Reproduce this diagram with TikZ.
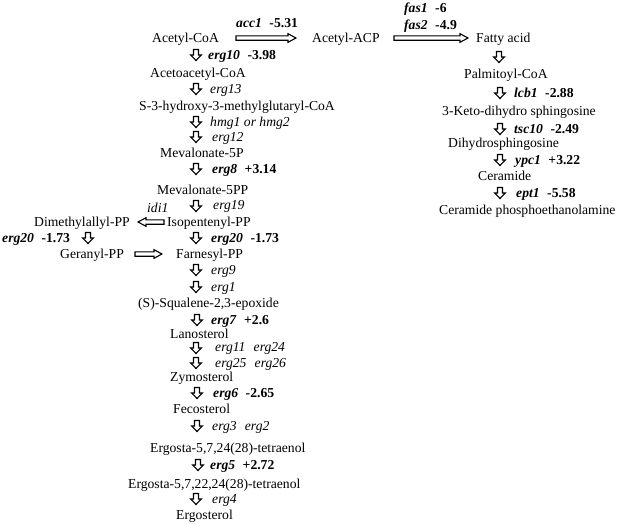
\documentclass[tikz,border=0pt]{standalone}
\usepackage{fontspec}
\setmainfont{Liberation Serif}
\newcommand\gb[2]{\textbf{\textit{#1}}\hspace{0.55em}\textbf{#2}}
\newcommand\gi[1]{\textit{#1}}
\begin{document}
\begin{tikzpicture}[x=1pt,y=-1pt,
  txt/.style={inner sep=0pt, anchor=base west, yshift=-4.5pt, font=\fontsize{13.65}{16}\selectfont},
  blk/.style={draw=black, line width=1.1pt, fill=white, line join=miter},
  darr/.pic={\draw[blk] (-2.5,-5.5) -- (-2.5,0) -- (-5.3,0) -- (0,5.5) -- (5.3,0) -- (2.5,0) -- (2.5,-5.5) -- cycle;}
]
\useasboundingbox (0,0) rectangle (619,523);
% ---------- top row ----------
\node[txt] (acoa) at (152,38) {Acetyl-CoA};
\node[txt] (acc) at (236,23) {\gb{acc1}{-5.31}};
\node[txt] (aacp) at (312,38) {Acetyl-ACP};
\node[txt] (fas1) at (404,8) {\gb{fas1}{-6}};
\node[txt] (fas2) at (404,25) {\gb{fas2}{-4.9}};
\node[txt] (fatty) at (476,38) {Fatty acid};
\draw[blk] (236,35.8) -- (288,35.8) -- (288,33.7) -- (296,38) -- (288,42.3) -- (288,40.2) -- (236,40.2) -- cycle;
\draw[blk] (394,35.8) -- (460,35.8) -- (460,33.7) -- (468,38) -- (460,42.3) -- (460,40.2) -- (394,40.2) -- cycle;
% ---------- right column ----------
\pic at (499,57) {darr};
\node[txt] (palm) at (464,74) {Palmitoyl-CoA};
\pic at (500,93) {darr};
\node[txt] (lcb) at (514,93) {\gb{lcb1}{-2.88}};
\node[txt] (keto) at (442,111) {3-Keto-dihydro sphingosine};
\pic at (500,129) {darr};
\node[txt] (tsc) at (514,129) {\gb{tsc10}{-2.49}};
\node[txt] (dihy) at (448,143) {Dihydrosphingosine};
\pic at (500,160) {darr};
\node[txt] (ypc) at (515,160) {\gb{ypc1}{+3.22}};
\node[txt] (cer) at (478,176) {Ceramide};
\pic at (500,193) {darr};
\node[txt] (ept) at (516,193) {\gb{ept1}{-5.58}};
\node[txt] (cerp) at (439,210) {Ceramide phosphoethanolamine};
% ---------- left column ----------
\pic at (196,55) {darr};
\node[txt] (erg10) at (208,55) {\gb{erg10}{-3.98}};
\node[txt] (aacoa) at (150,73) {Acetoacetyl-CoA};
\pic at (196,89) {darr};
\node[txt] (erg13) at (210,89) {\gi{erg13}};
\node[txt] (hmgcoa) at (139,106) {S-3-hydroxy-3-methylglutaryl-CoA};
\pic at (196,122) {darr};
\node[txt] (hmg) at (210,122) {\gi{hmg1 or hmg2}};
\pic at (196,137) {darr};
\node[txt] (erg12) at (212,137) {\gi{erg12}};
\node[txt] (mev5p) at (160,153) {Mevalonate-5P};
\pic at (196,169) {darr};
\node[txt] (erg8) at (212,169) {\gb{erg8}{+3.14}};
\node[txt] (mev5pp) at (157,190) {Mevalonate-5PP};
\pic at (196,206) {darr};
\node[txt] (erg19) at (213,205) {\gi{erg19}};
\node[txt] (idi) at (147,208) {\gi{idi1}};
\node[txt] (dmapp) at (34,222) {Dimethylallyl-PP};
\node[txt] (ipp) at (167,222) {Isopentenyl-PP};
\draw[blk] (164,219.8) -- (146,219.8) -- (146,217.7) -- (138,222) -- (146,226.3) -- (146,224.2) -- (164,224.2) -- cycle;
\node[txt] (erg20a) at (2,238) {\gb{erg20}{-1.73}};
\pic at (88,238) {darr};
\pic at (196,238) {darr};
\node[txt] (erg20b) at (211,238) {\gb{erg20}{-1.73}};
\node[txt] (gpp) at (60,254) {Geranyl-PP};
\draw[blk] (135,251.8) -- (154,251.8) -- (154,249.7) -- (162,254) -- (154,258.3) -- (154,256.2) -- (135,256.2) -- cycle;
\node[txt] (fpp) at (176,254) {Farnesyl-PP};
\pic at (196,270) {darr};
\node[txt] (erg9) at (211,270) {\gi{erg9}};
\pic at (196,287) {darr};
\node[txt] (erg1) at (211,287) {\gi{erg1}};
\node[txt] (squal) at (138,303) {(S)-Squalene-2,3-epoxide};
\pic at (197,320) {darr};
\node[txt] (erg7) at (211,320) {\gb{erg7}{+2.6}};
\node[txt] (lano) at (170,334) {Lanosterol};
\pic at (196,348) {darr};
\node[txt] (erg11) at (215,347) {\gi{erg11}\hspace{0.6em}\gi{erg24}};
\pic at (196,363) {darr};
\node[txt] (erg25) at (215,363) {\gi{erg25}\hspace{0.6em}\gi{erg26}};
\node[txt] (zymo) at (170,377) {Zymosterol};
\pic at (197,393) {darr};
\node[txt] (erg6) at (213,393) {\gb{erg6}{-2.65}};
\node[txt] (feco) at (173,409) {Fecosterol};
\pic at (197,426) {darr};
\node[txt] (erg3) at (212,426) {\gi{erg3}\hspace{0.6em}\gi{erg2}};
\node[txt] (ergA) at (150,448) {Ergosta-5,7,24(28)-tetraenol};
\pic at (198,465) {darr};
\node[txt] (erg5) at (210,465) {\gb{erg5}{+2.72}};
\node[txt] (ergB) at (128,484) {Ergosta-5,7,22,24(28)-tetraenol};
\pic at (196,499) {darr};
\node[txt] (erg4) at (212,499) {\gi{erg4}};
\node[txt] (ergo) at (176,515) {Ergosterol};
\end{tikzpicture}
\end{document}
